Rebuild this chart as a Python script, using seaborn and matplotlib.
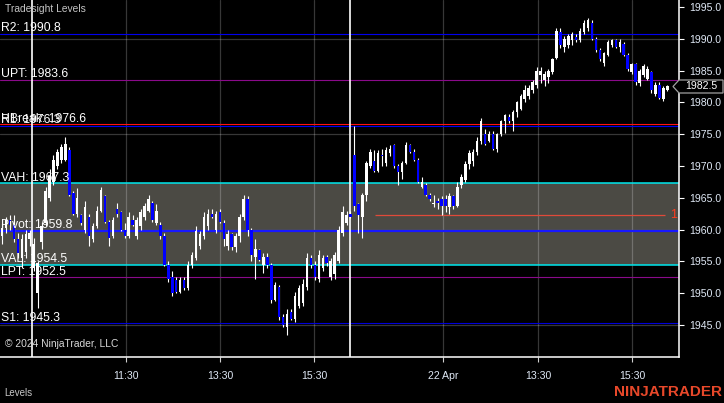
import numpy as np
import pandas as pd
import matplotlib
matplotlib.use("Agg")
import matplotlib.pyplot as plt
import seaborn as sns
from matplotlib.patches import Polygon
from matplotlib.transforms import IdentityTransform, blended_transform_factory

# 5-minute bars (bar index 0..168)
opens = [
    1959.0, 1960.25, 1961.5, 1960.75, 1958.5, 1955.5, 1956.5, 1958.5, 1954.0, 1950.0,
    1958.0, 1961.0, 1965.0, 1967.5, 1970.0, 1971.0, 1971.0, 1972.5, 1965.75, 1962.5,
    1962.25, 1960.0, 1962.0, 1958.5, 1960.5, 1963.0, 1965.25, 1961.25, 1959.0, 1963.25,
    1962.75, 1960.0, 1959.0, 1961.5, 1959.0, 1960.5, 1962.0, 1963.0, 1964.25, 1961.0,
    1960.75, 1959.0, 1954.5, 1952.5, 1952.0, 1950.25, 1952.0, 1950.75, 1954.5, 1955.5,
    1957.5, 1959.0, 1960.5, 1962.5, 1960.0, 1962.75, 1961.0, 1957.5, 1959.25, 1957.25,
    1959.0, 1962.0, 1964.75, 1960.0, 1955.75, 1956.75, 1954.5, 1955.75, 1954.5, 1949.0,
    1951.0, 1946.25, 1944.75, 1947.0, 1946.0, 1948.0, 1948.5, 1951.0, 1955.5, 1954.5,
    1952.25, 1954.0, 1955.75, 1952.5, 1953.0, 1955.0, 1959.5, 1961.0, 1962.5, 1971.75,
    1964.0, 1962.0, 1965.5, 1970.0, 1970.75, 1969.25, 1971.75, 1970.5, 1972.0, 1973.25,
    1970.0, 1969.0, 1970.5, 1973.25, 1972.25, 1971.0, 1966.75, 1967.0, 1965.5, 1964.0,
    1964.5, 1964.75, 1964.75, 1963.5, 1965.25, 1963.75, 1967.0, 1967.75, 1970.25, 1970.75,
    1972.25, 1974.0, 1975.0, 1974.0, 1975.0, 1972.75, 1975.0, 1977.0, 1977.75, 1977.0,
    1978.5, 1979.0, 1980.5, 1981.0, 1982.0, 1982.75, 1984.25, 1983.5, 1984.0, 1984.75,
    1987.0, 1991.0, 1988.75, 1989.0, 1989.75, 1990.25, 1989.75, 1991.0, 1991.75, 1992.5,
    1990.0, 1988.25, 1986.25, 1987.5, 1989.0, 1989.75, 1988.75, 1989.25, 1987.5, 1984.75,
    1986.0, 1983.0, 1984.25, 1983.75, 1984.75, 1981.25, 1982.75, 1980.5, 1982.0,
]
highs = [
    1961.0, 1962.0, 1962.25, 1962.25, 1959.5, 1959.25, 1960.0, 1960.0, 1958.75, 1955.0,
    1961.25, 1966.75, 1969.5, 1971.75, 1972.75, 1973.5, 1974.5, 1973.0, 1966.0, 1966.5,
    1962.5, 1964.5, 1962.5, 1961.0, 1963.75, 1966.75, 1965.5, 1961.5, 1962.0, 1964.25,
    1963.0, 1961.0, 1962.75, 1962.25, 1962.0, 1963.25, 1964.25, 1965.5, 1964.5, 1964.0,
    1961.25, 1959.5, 1955.0, 1953.5, 1952.5, 1952.5, 1952.5, 1955.0, 1956.5, 1960.5,
    1959.75, 1962.75, 1963.25, 1963.25, 1963.0, 1963.25, 1961.5, 1960.0, 1959.5, 1959.5,
    1962.5, 1965.5, 1965.25, 1960.25, 1958.5, 1957.0, 1956.25, 1956.25, 1954.75, 1951.75,
    1951.25, 1946.75, 1947.5, 1947.5, 1950.25, 1951.25, 1952.25, 1956.25, 1956.0, 1955.0,
    1956.75, 1956.0, 1956.0, 1955.5, 1956.5, 1960.5, 1963.75, 1963.0, 1963.0, 1976.25,
    1964.25, 1965.75, 1970.75, 1972.75, 1972.5, 1972.5, 1972.75, 1973.0, 1973.25, 1973.5,
    1970.25, 1970.75, 1973.75, 1973.5, 1972.75, 1971.25, 1968.25, 1967.25, 1965.75, 1965.5,
    1965.0, 1965.25, 1965.5, 1965.75, 1965.5, 1967.5, 1968.75, 1970.75, 1972.5, 1972.75,
    1974.5, 1977.5, 1975.75, 1975.5, 1975.5, 1975.25, 1977.25, 1978.25, 1978.25, 1978.75,
    1980.25, 1981.25, 1982.75, 1982.75, 1983.5, 1985.5, 1985.5, 1985.0, 1985.25, 1987.0,
    1991.75, 1991.75, 1990.5, 1990.75, 1991.0, 1990.75, 1991.75, 1993.0, 1993.25, 1993.0,
    1990.25, 1988.5, 1988.0, 1989.75, 1990.0, 1990.0, 1990.0, 1989.5, 1987.75, 1986.25,
    1986.25, 1985.25, 1986.0, 1985.75, 1985.0, 1983.25, 1983.25, 1982.5, 1982.75,
]
lows = [
    1957.75, 1959.5, 1960.0, 1958.0, 1955.5, 1954.0, 1955.5, 1957.5, 1953.5, 1947.75,
    1957.0, 1960.5, 1964.5, 1967.0, 1969.5, 1970.5, 1970.75, 1965.25, 1962.25, 1962.0,
    1960.75, 1959.5, 1957.5, 1958.0, 1960.25, 1962.75, 1961.0, 1957.5, 1958.75, 1962.0,
    1959.75, 1958.75, 1958.75, 1960.5, 1958.5, 1960.0, 1961.5, 1962.75, 1961.25, 1960.75,
    1958.5, 1954.25, 1951.75, 1949.5, 1950.0, 1950.0, 1950.5, 1950.5, 1954.0, 1955.25,
    1957.0, 1958.5, 1960.0, 1961.75, 1959.5, 1961.0, 1957.5, 1956.75, 1956.75, 1956.5,
    1958.0, 1961.5, 1959.0, 1955.0, 1952.25, 1955.0, 1953.25, 1954.0, 1948.5, 1948.75,
    1945.75, 1944.75, 1943.5, 1945.75, 1945.5, 1947.75, 1948.0, 1950.5, 1954.0, 1952.0,
    1951.75, 1953.5, 1954.25, 1952.0, 1952.25, 1954.75, 1959.0, 1960.75, 1961.75, 1963.0,
    1959.5, 1958.75, 1964.5, 1969.75, 1969.0, 1969.0, 1970.0, 1970.0, 1971.5, 1969.75,
    1967.0, 1968.0, 1970.25, 1972.0, 1970.75, 1967.25, 1966.5, 1965.25, 1964.5, 1963.5,
    1963.25, 1962.25, 1962.75, 1962.5, 1963.25, 1963.5, 1966.5, 1967.5, 1969.5, 1970.0,
    1971.75, 1973.5, 1973.25, 1973.75, 1972.5, 1972.25, 1974.75, 1975.25, 1976.75, 1975.5,
    1977.75, 1978.75, 1980.0, 1980.5, 1981.5, 1982.25, 1983.0, 1982.5, 1983.0, 1984.5,
    1986.75, 1988.5, 1988.0, 1988.5, 1989.0, 1989.5, 1989.5, 1990.75, 1991.25, 1989.75,
    1988.0, 1986.5, 1985.75, 1987.25, 1988.75, 1988.5, 1988.0, 1987.25, 1985.0, 1984.5,
    1982.75, 1982.5, 1984.0, 1983.5, 1981.5, 1981.0, 1980.5, 1980.25, 1981.75,
]
closes = [
    1960.25, 1961.5, 1960.75, 1958.5, 1956.25, 1958.5, 1959.25, 1959.5, 1957.75, 1954.75,
    1960.5, 1966.0, 1968.5, 1971.0, 1972.25, 1973.0, 1973.5, 1965.5, 1962.5, 1965.0,
    1961.0, 1963.5, 1959.0, 1960.5, 1963.0, 1966.25, 1961.25, 1958.75, 1961.5, 1962.5,
    1960.0, 1959.0, 1962.0, 1960.75, 1961.5, 1962.75, 1963.75, 1964.75, 1961.5, 1963.0,
    1959.0, 1954.5, 1952.25, 1950.0, 1950.25, 1952.0, 1950.75, 1954.5, 1956.0, 1959.75,
    1959.25, 1962.0, 1962.5, 1962.0, 1962.5, 1961.25, 1958.5, 1959.25, 1957.25, 1959.0,
    1962.0, 1964.75, 1960.0, 1956.0, 1957.0, 1955.25, 1955.75, 1954.5, 1949.0, 1951.25,
    1946.25, 1945.0, 1946.75, 1946.0, 1949.5, 1950.75, 1951.5, 1955.5, 1954.5, 1952.5,
    1956.0, 1955.5, 1954.75, 1955.0, 1956.0, 1960.0, 1962.75, 1962.25, 1962.0, 1963.75,
    1962.25, 1965.5, 1970.5, 1972.25, 1969.25, 1972.0, 1971.5, 1972.5, 1972.75, 1970.0,
    1969.0, 1970.5, 1973.25, 1972.25, 1971.0, 1967.5, 1967.5, 1965.5, 1964.75, 1964.25,
    1964.25, 1963.75, 1963.75, 1965.25, 1963.75, 1966.75, 1968.25, 1970.25, 1972.0, 1972.25,
    1974.0, 1977.0, 1973.5, 1975.0, 1972.75, 1975.0, 1977.0, 1978.0, 1977.0, 1978.5,
    1980.0, 1981.0, 1982.0, 1982.25, 1983.25, 1985.0, 1985.0, 1984.5, 1985.0, 1986.75,
    1991.25, 1989.0, 1990.0, 1990.5, 1990.75, 1989.75, 1991.25, 1992.5, 1993.0, 1990.0,
    1988.25, 1986.75, 1987.75, 1989.5, 1989.75, 1988.75, 1989.5, 1987.5, 1985.25, 1986.0,
    1983.25, 1985.0, 1985.75, 1985.25, 1982.0, 1982.75, 1980.75, 1982.25, 1982.5,
]

# Tradesight levels
level_names = ["R2", "UPT", "HBreak", "R1", "VAH", "Pivot", "VAL", "LPT", "S1"]
level_values = [1990.8, 1983.6, 1976.6, 1976.3, 1967.3, 1959.8, 1954.5, 1952.5, 1945.3]

# x axis: tick labels at bar positions, session breaks
tick_bars = [31.3, 55.05, 78.8, 111.4, 135.4, 159.1]
tick_labels = ["11:30", "13:30", "15:30", "22 Apr", "13:30", "15:30"]
session_breaks = [7.6, 88.0]

# y axis
price_ticks = [1945, 1950, 1955, 1960, 1965, 1970, 1975, 1980, 1985, 1990, 1995]
grid_prices = [1945, 1960, 1975, 1990]

# red drawing line (start bar, end bar, price)
ray_start, ray_end, ray_price = 94.2, 167.4, 1962.3

level_colors = {
    "R2": "#0000f0", "UPT": "#8a0a8a", "HBreak": "#ff1010", "R1": "#0000f0",
    "VAH": "#00e8ee", "Pivot": "#1818ff", "VAL": "#00e8ee", "LPT": "#8a0a8a",
    "S1": "#0000d8",
}
level_widths = {"Pivot": 1.6, "VAH": 1.1, "VAL": 1.1}

sns.set_style("dark", {"axes.facecolor": "black", "figure.facecolor": "black",
                       "axes.edgecolor": "white", "text.color": "white"})
plt.rcParams['font.family'] = ['Liberation Sans', 'DejaVu Sans']

fig = plt.figure(figsize=(7.24, 4.03), dpi=100)
fig.patch.set_facecolor("black")
ax = fig.add_axes([0, 1 - 357 / 403, 679 / 724, 357 / 403])
ax.set_facecolor("black")

df = pd.DataFrame({"open": opens, "high": highs, "low": lows, "close": closes})
df["bar"] = np.arange(len(df))
up = df["close"] >= df["open"]
body_bottom = df[["open", "close"]].min(axis=1)
body_height = (df["close"] - df["open"]).abs().clip(lower=0.15)
body_colors = np.where(up, "white", "#0000ff")

# value area
vals = dict(zip(level_names, level_values))
ax.axhspan(vals["VAL"], vals["VAH"], color="#4b4a44", zorder=0, lw=0)

# grid
for gp in grid_prices:
    ax.axhline(gp, color="white", alpha=0.22, lw=0.9, zorder=1)
for tb in tick_bars:
    ax.axvline(tb, color="white", alpha=0.22, lw=0.9, zorder=1)

# level lines and labels
lab_tr = blended_transform_factory(ax.transAxes, ax.transData)
for name, val in zip(level_names, level_values):
    ax.axhline(val, color=level_colors[name], lw=level_widths.get(name, 0.8), zorder=2)
for name, val in zip(level_names, level_values):
    ax.annotate(f"{name}: {val}", xy=(0.0, val), xycoords=lab_tr,
                xytext=(0.5, 1.8), textcoords="offset points",
                va="baseline", ha="left", fontsize=8.8, color="white", zorder=8)

# session breaks
for sb_ in session_breaks:
    ax.axvline(sb_, color="white", lw=1.2, zorder=3)

# red ray
ax.hlines(ray_price, ray_start, ray_end, color="#e04a3a", lw=0.9, zorder=3)
ax.text(168.6, ray_price, "1", color="#ff3c1e", fontsize=9, va="center", ha="left",
        zorder=6, clip_on=True)

# candles
ax.vlines(df["bar"], df["low"], df["high"], color="white", lw=0.8, zorder=4)
ax.bar(df["bar"], body_height, bottom=body_bottom, width=0.62,
       color=body_colors, linewidth=0, zorder=5)

ax.set_xlim(-2 / 3.96, 677 / 3.96)
ax.set_ylim(1939.97, 1996.1)

ax.yaxis.tick_right()
ax.set_yticks(price_ticks)
ax.set_yticklabels([f"{p:.1f}" for p in price_ticks])
ax.set_xticks(tick_bars)
ax.set_xticklabels(tick_labels)
ax.tick_params(axis="y", colors="white", labelcolor="#dfe8f5", labelsize=7.6,
               length=3.6, width=0.8, pad=3.4, right=True, left=False)
ax.tick_params(axis="x", colors="#cfcfcf", labelcolor="#dfe8f5", labelsize=7.6,
               length=3.4, width=0.8, pad=6.5, bottom=True)
ax.grid(False)
for side in ["left", "top"]:
    ax.spines[side].set_visible(False)
for side in ["right", "bottom"]:
    ax.spines[side].set_visible(True)
    ax.spines[side].set_color("white")
    ax.spines[side].set_linewidth(1.1)

# current price marker
fig.canvas.draw()
ylast = ax.transData.transform((0, closes[-1]))[1]
marker = Polygon([(673, ylast), (679, ylast + 6.5), (723, ylast + 6.5),
                  (723, ylast - 6.5), (679, ylast - 6.5)], closed=True,
                 transform=IdentityTransform(), facecolor="black",
                 edgecolor="#a0a0a0", lw=0.9)
fig.add_artist(marker)
fig.text(701, ylast, f"{closes[-1]:.1f}", transform=IdentityTransform(),
         ha="center", va="center", fontsize=7.6, color="white")

# captions
fig.text(5 / 724, 1 - 9 / 403, "Tradesight Levels", fontsize=7.4, color="#c4c4c4",
         va="center", ha="left")
fig.text(5 / 724, 1 - 344 / 403, "© 2024 NinjaTrader, LLC", fontsize=7.4,
         color="#d8d8d8", va="center", ha="left")
fig.text(4 / 724, 1 - 393 / 403, "Levels", fontsize=7, color="#c8c8c8",
         va="center", ha="left")
fig.text(722 / 724, 1 - 392 / 403, "NINJATRADER", fontsize=11, fontweight="bold",
         color="#e8482a", va="center", ha="right")

fig.savefig("out.png", dpi=100, facecolor="black")
